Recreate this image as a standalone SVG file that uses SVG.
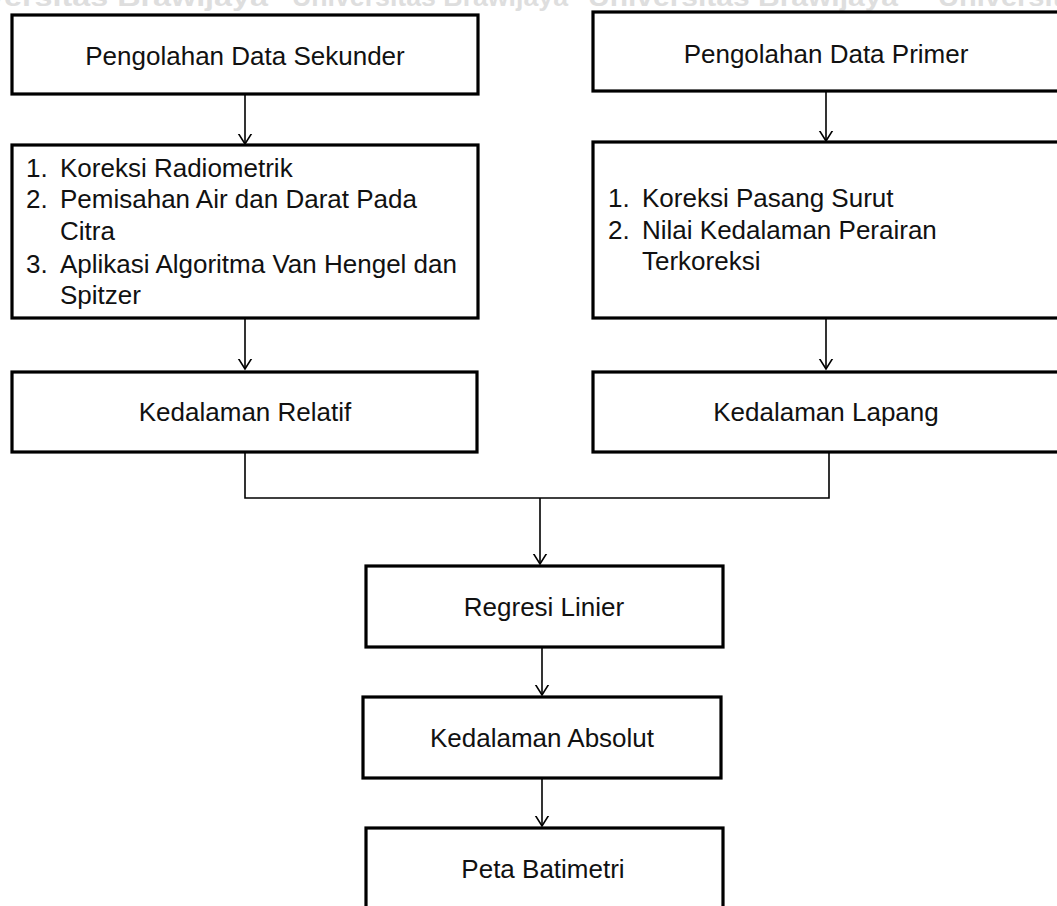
<svg xmlns="http://www.w3.org/2000/svg" width="1057" height="906" viewBox="0 0 1057 906">
<style>
.box{fill:#fff;stroke:#000;stroke-width:3.2}
.t{font-family:"Liberation Sans",Arial,sans-serif;font-size:26px;fill:#111}
.c{text-anchor:middle}
.wm{font-family:"Liberation Sans",Arial,sans-serif;font-size:26px;font-weight:bold;fill:#dedede}
.ln{fill:none;stroke:#000;stroke-width:1.6}
</style>
<defs>
<marker id="ah" markerWidth="20" markerHeight="20" viewBox="-10 -10 20 20" refX="0" refY="0" orient="auto" markerUnits="userSpaceOnUse">
<path d="M-12,-7.5 L0,0 L-12,7.5" fill="none" stroke="#000" stroke-width="1.6"/>
</marker>
</defs>
<rect width="1057" height="906" fill="#fff"/>
<g id="watermark">
<text class="wm" x="-66" y="6" textLength="334" lengthAdjust="spacingAndGlyphs">Universitas Brawijaya</text>
<text class="wm" x="292" y="6" textLength="276" lengthAdjust="spacingAndGlyphs">Universitas Brawijaya</text>
<text class="wm" x="588" y="6" textLength="310" lengthAdjust="spacingAndGlyphs">Universitas Brawijaya</text>
<text class="wm" x="938" y="6" textLength="300" lengthAdjust="spacingAndGlyphs">Universitas Brawijaya</text>
</g>
<g id="connectors">
<line class="ln" x1="245" y1="95" x2="245" y2="144" marker-end="url(#ah)"/>
<line class="ln" x1="826" y1="92" x2="826" y2="141" marker-end="url(#ah)"/>
<line class="ln" x1="245" y1="319" x2="245" y2="369" marker-end="url(#ah)"/>
<line class="ln" x1="826" y1="319" x2="826" y2="369" marker-end="url(#ah)"/>
<polyline class="ln" points="245,453 245,498 829,498 829,453"/>
<line class="ln" x1="540" y1="498" x2="540" y2="564" marker-end="url(#ah)"/>
<line class="ln" x1="542" y1="648" x2="542" y2="695" marker-end="url(#ah)"/>
<line class="ln" x1="542" y1="779" x2="542" y2="826" marker-end="url(#ah)"/>
</g>
<g id="n-sekunder">
<rect class="box" x="12" y="15" width="466" height="79"/>
<text class="t c" x="245" y="65">Pengolahan Data Sekunder</text>
</g>
<g id="n-primer">
<rect class="box" x="593" y="12" width="470" height="79"/>
<text class="t c" x="826" y="63">Pengolahan Data Primer</text>
</g>
<g id="n-proses-sekunder">
<rect class="box" x="12" y="145" width="466" height="173"/>
<text class="t" x="26" y="177">1.</text><text class="t" x="60" y="177">Koreksi Radiometrik</text>
<text class="t" x="26" y="208">2.</text><text class="t" x="60" y="208">Pemisahan Air dan Darat Pada</text>
<text class="t" x="60" y="240">Citra</text>
<text class="t" x="26" y="273">3.</text><text class="t" x="60" y="273">Aplikasi Algoritma Van Hengel dan</text>
<text class="t" x="60" y="304">Spitzer</text>
</g>
<g id="n-proses-primer">
<rect class="box" x="593" y="142" width="470" height="176"/>
<text class="t" x="608" y="207">1.</text><text class="t" x="642" y="207">Koreksi Pasang Surut</text>
<text class="t" x="608" y="239">2.</text><text class="t" x="642" y="239">Nilai Kedalaman Perairan</text>
<text class="t" x="642" y="270">Terkoreksi</text>
</g>
<g id="n-relatif">
<rect class="box" x="12" y="372" width="465" height="80"/>
<text class="t c" x="245" y="421">Kedalaman Relatif</text>
</g>
<g id="n-lapang">
<rect class="box" x="593" y="372" width="470" height="80"/>
<text class="t c" x="826" y="421">Kedalaman Lapang</text>
</g>
<g id="n-regresi">
<rect class="box" x="366" y="566" width="357" height="81"/>
<text class="t c" x="544" y="616">Regresi Linier</text>
</g>
<g id="n-absolut">
<rect class="box" x="363" y="697" width="358" height="81"/>
<text class="t c" x="542" y="747">Kedalaman Absolut</text>
</g>
<g id="n-peta">
<rect class="box" x="366" y="828" width="357" height="100"/>
<text class="t c" x="543" y="878">Peta Batimetri</text>
</g>
</svg>
